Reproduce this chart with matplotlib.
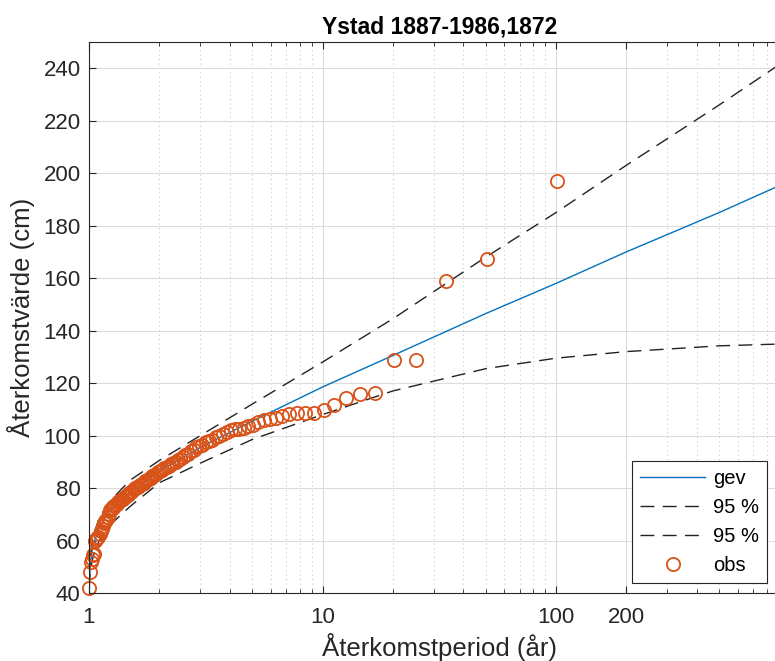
import numpy as np
import matplotlib
matplotlib.use("Agg")
import matplotlib.pyplot as plt

plt.rcParams['font.family'] = ['Liberation Sans', 'DejaVu Sans']

# observerade årshögvatten (cm), sorterade fallande (rang 1 först)
obs = [197, 167.3, 158.8, 128.8, 128.8, 116.4, 115.7, 114.5, 111.5, 109.7,
       108.5, 108.5, 108.5, 108.1, 107.4, 106.8, 106.2, 105.9, 105.0, 103.9,
       103.5, 103.0, 102.5, 102.5, 102.0, 101.5, 100.5, 100.0, 99.5, 98.5,
       98.0, 97.5, 96.5, 96.0, 95.5, 94.5, 94.0, 93.0, 92.5, 92.0,
       91.0, 90.5, 90.0, 89.5, 89.0, 88.5, 88.0, 87.5, 87.0, 86.5,
       86.0, 85.5, 85.0, 84.5, 84.0, 83.5, 83.0, 82.5, 82.0, 81.5,
       81.0, 80.5, 80.5, 80.0, 79.5, 79.0, 78.5, 78.0, 77.5, 77.0,
       76.5, 76.0, 76.0, 75.5, 75.0, 74.5, 74.0, 73.5, 73.0, 72.5,
       72.0, 71.5, 70.0, 69.0, 68.0, 67.5, 66.5, 65.5, 64.5, 63.5,
       62.5, 61.5, 61.0, 60.5, 60.0, 55.0, 54.5, 53.0, 52.0, 48.0, 42.0]

# anpassad gev-kurva och 95 %-gränser, avlästa vid givna återkomstperioder
T_fit = [1.003, 1.01, 1.03, 1.05, 1.1, 1.2, 1.5, 2, 3, 5, 10, 20, 50, 100, 200, 500, 1000]
gev   = [44, 50, 56, 59, 64.5, 70.5, 78.5, 86.5, 95.5, 105.5, 118.5, 130.5, 146.5, 158, 170, 185, 197]
upper = [46, 53, 59, 62.5, 68, 74, 83, 90.5, 100, 112, 128, 144.5, 168, 185, 203, 226, 244]
lower = [42, 47, 52, 55, 59.5, 65, 73, 82, 89.5, 98.5, 108, 117, 125.5, 129.5, 132, 134.2, 135]

xticks = [1, 10, 100, 200]
xticklabels = ['1', '10', '100', '200']
yticks = list(range(40, 241, 20))

n = len(obs)
T_obs = n / np.arange(1, n + 1)

W, H = 775, 661
fig = plt.figure(figsize=(W / 100, H / 100), dpi=100)
# axeln fortsätter förbi bildens högra kant (som i originalet)
ax = fig.add_axes([89 / W, (H - 593) / H, (789.5 - 89) / W, (593 - 42) / H])

dark = '#262626'
ax.plot(T_fit, gev, color='#0072BD', lw=1.0, label='gev')
ax.plot(T_fit, upper, color='#222222', lw=1.0, dashes=(10, 6), label='95 %')
ax.plot(T_fit, lower, color='#222222', lw=1.0, dashes=(10, 6), label='95 %')
ax.plot(T_obs, obs, 'o', mfc='none', mec='#D95319', ms=9.5, mew=1.3,
        label='obs', clip_on=False)

ax.set_xscale('log')
ax.set_xlim(1, 1000)
ax.set_ylim(40, 250)
ax.set_xticks(xticks)
ax.set_xticklabels(xticklabels)
ax.set_yticks(yticks)

ax.grid(True, which='major', color='#dcdcdc', lw=0.8)
ax.grid(True, which='minor', axis='x', color='#c8c8c8', lw=0.8, ls=(0, (1, 3)))
ax.set_axisbelow(True)

ax.tick_params(which='both', direction='in', top=True, right=False,
               colors=dark, labelsize=16)
ax.tick_params(which='major', length=5)
ax.tick_params(which='minor', length=3)
ax.tick_params(axis='x', pad=10)
ax.tick_params(axis='y', pad=6)
for s in ['left', 'bottom', 'top']:
    ax.spines[s].set_color(dark)
ax.spines['right'].set_visible(False)

ax.set_title('Ystad 1887-1986,1872', fontsize=16.5, fontweight='bold', color='black', pad=6)
ax.set_xlabel('Återkomstperiod (år)', fontsize=18.5, color=dark, labelpad=4)
ax.set_ylabel('Återkomstvärde (cm)', fontsize=18.5, color=dark, labelpad=6)

leg = ax.legend(loc='lower right', bbox_to_anchor=(767 / W, (H - 583) / H),
                bbox_transform=fig.transFigure, borderaxespad=0,
                fontsize=14.5, handlelength=3.2, handletextpad=0.4,
                fancybox=False, framealpha=1, edgecolor=dark)
leg.get_frame().set_linewidth(0.8)

fig.savefig('out.png', dpi=100)
